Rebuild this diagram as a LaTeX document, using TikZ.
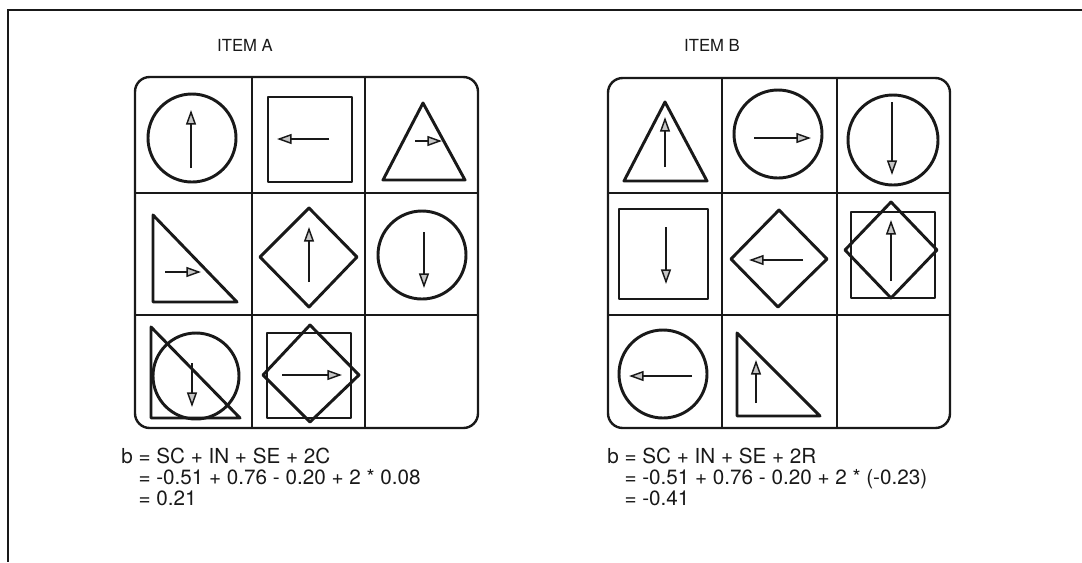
\documentclass[tikz,border=0pt]{standalone}
\usepackage{fontspec}
\setmainfont{TeX Gyre Heros}
\usetikzlibrary{arrows.meta}
\definecolor{ink}{gray}{0.1}
\begin{document}
\begin{tikzpicture}[x=0.75pt,y=-0.75pt,
  gridline/.style={line width=1.8pt, draw=ink},
  shp/.style={line width=2.2pt, draw=ink, line join=round},
  arr/.style={line width=1.5pt, draw=ink, -{Triangle[length=11pt,width=7.5pt,fill=gray!45,line width=1.1pt]}},
  ttl/.style={font=\fontsize{12.5}{14}\selectfont, anchor=base, text=ink, inner sep=0pt},
  eq/.style={font=\fontsize{15.5}{16}\selectfont, anchor=base west, text=ink, inner sep=0pt}]
\useasboundingbox (0,0) rectangle (1082,562);
\fill[white] (0,0) rectangle (1082,562);
% outer frame
\draw[gridline] (1082,10) -- (8,10) -- (8,562);

% ---------- ITEM A ----------
\node[ttl] (titleA) at (245,51) {ITEM A};
\draw[gridline, rounded corners=11pt] (135,77) rectangle (478,428);
\draw[gridline] (252,77) -- (252,428);
\draw[gridline] (365,77) -- (365,428);
\draw[gridline] (135,193) -- (478,193);
\draw[gridline] (135,315) -- (478,315);
% row 1
\draw[shp] (192,138) circle[radius=44];
\draw[arr] (191,168) -- (191,110);
\draw[shp] (268,97) rectangle (352,182);
\draw[arr] (329,139) -- (277,139);
\draw[shp] (423,103) -- (465,180) -- (383,180) -- cycle;
\draw[arr] (415,141) -- (442,141);
% row 2
\draw[shp] (153,215) -- (153,302) -- (237,302) -- cycle;
\draw[arr] (165,272) -- (201,272);
\draw[shp] (309,208) -- (357,257) -- (309,307) -- (260,257) -- cycle;
\draw[arr] (309,282) -- (309,227);
\draw[shp] (422,255) circle[radius=44];
\draw[arr] (424,232) -- (424,288);
% row 3
\draw[shp] (151,327) -- (151,418) -- (240,418) -- cycle;
\draw[shp] (196,376) circle[radius=43];
\draw[arr] (192,363) -- (192,407);
\draw[shp] (267,333) rectangle (351,418);
\draw[shp] (310,325) -- (359,375) -- (310,422) -- (263,375) -- cycle;
\draw[arr] (282,375) -- (342,375);

\node[eq] (a1) at (121,463) {b = SC + IN + SE + 2C};
\node[eq] (a2) at (121,484) {\phantom{b }= -0.51 + 0.76 - 0.20 + 2 * 0.08};
\node[eq] (a3) at (121,505) {\phantom{b }= 0.21};

% ---------- ITEM B ----------
\node[ttl] (titleB) at (712,51) {ITEM B};
\draw[gridline, rounded corners=11pt] (608,78) rectangle (950,428);
\draw[gridline] (722,78) -- (722,428);
\draw[gridline] (837,78) -- (837,428);
\draw[gridline] (608,193) -- (950,193);
\draw[gridline] (608,315) -- (950,315);
% row 1
\draw[shp] (665,102) -- (707,181) -- (624,181) -- cycle;
\draw[arr] (665,167) -- (665,117);
\draw[shp] (778,134) circle[radius=44];
\draw[arr] (754,138) -- (811,138);
\draw[shp] (893,140) circle[radius=45];
\draw[arr] (892,102) -- (892,175);
% row 2
\draw[shp] (619,209) rectangle (708,299);
\draw[arr] (666,227) -- (666,284);
\draw[shp] (779,210) -- (827,259) -- (778,307) -- (731,259) -- cycle;
\draw[arr] (803,260) -- (749,260);
\draw[shp] (851,212) rectangle (935,298);
\draw[shp] (891,202) -- (937,250) -- (891,298) -- (845,250) -- cycle;
\draw[arr] (891,281) -- (891,220);
% row 3
\draw[shp] (663,374) circle[radius=44];
\draw[arr] (692,376) -- (629,376);
\draw[shp] (737,333) -- (737,416) -- (820,416) -- cycle;
\draw[arr] (756,403) -- (756,360);

\node[eq] (b1) at (607,463) {b = SC + IN + SE + 2R};
\node[eq] (b2) at (607,484) {\phantom{b }= -0.51 + 0.76 - 0.20 + 2 * (-0.23)};
\node[eq] (b3) at (607,505) {\phantom{b }= -0.41};
\end{tikzpicture}
\end{document}
